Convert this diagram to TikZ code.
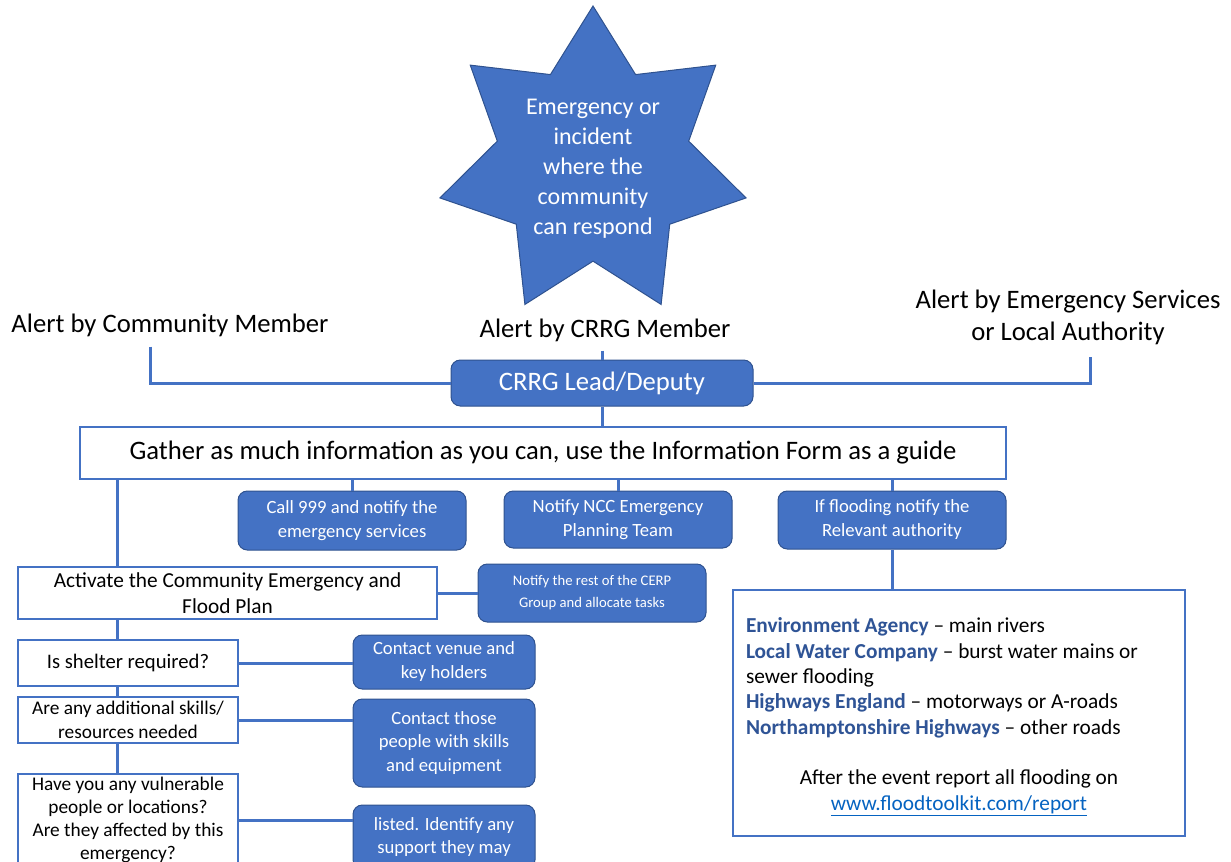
\documentclass[tikz,border=0pt]{standalone}
\usepackage{fontspec}
\setmainfont{Carlito}
\usetikzlibrary{shapes.geometric}
\definecolor{crrgblue}{HTML}{4472C4}
\definecolor{crrgedge}{HTML}{2F528F}
\definecolor{agencyblue}{HTML}{2F5496}
\definecolor{linkblue}{HTML}{0563C1}
\newcommand{\agency}[1]{\textbf{\textcolor{agencyblue}{#1}}}
\tikzset{
  wire/.style={draw=crrgblue, line width=2.25pt},
  bluebox/.style={draw=crrgedge, line width=0.75pt, fill=crrgblue, text=white,
    rounded corners=7pt, inner sep=0pt, align=center},
  whitebox/.style={draw=crrgblue, line width=1.5pt, fill=white, text=black,
    inner sep=0pt, align=center},
  alert/.style={inner sep=0pt, align=center, font=\fontsize{20}{24}\selectfont}
}

\begin{document}
\begin{tikzpicture}[x=0.75pt, y=-0.75pt]
\useasboundingbox (0,0) rectangle (1231,861);
\clip (0,0) rectangle (1231,861);

% the emergency
\node[star, star points=7, star point ratio=1.6, minimum size=235.5pt, inner sep=0pt,
  draw=crrgedge, line width=0.75pt, fill=crrgblue] (star) at (593,163) {};
\node[text=white, align=center, font=\fontsize{18}{22.5}\selectfont] (event) at (593,169)
  {Emergency or\\incident\\where the\\community\\can respond};

% who raises the alert
\node[alert] (alertcom) at (170,325) {Alert by Community Member};
\node[alert] (alertcrrg) at (605,330) {Alert by CRRG Member};
\node[alert] (alertes) at (1068,317) {Alert by Emergency Services\\or Local Authority};

\node[bluebox, minimum width=226.5pt, minimum height=34.5pt, font=\fontsize{20}{24}\selectfont]
  (lead) at (602,383) {CRRG Lead/Deputy};
\node[whitebox, minimum width=694.5pt, minimum height=39pt, font=\fontsize{20}{24}\selectfont]
  (gather) at (543,453) {Gather as much information as you can, use the Information Form as a guide};

% first actions
\node[bluebox, minimum width=171pt, minimum height=44.25pt, font=\fontsize{14}{18}\selectfont]
  (call) at (352,520.5) {Call 999 and notify the\\emergency services};
\node[bluebox, minimum width=171pt, minimum height=42.75pt, font=\fontsize{14}{18}\selectfont]
  (ncc) at (618,519.5) {Notify NCC Emergency\\Planning Team};
\node[bluebox, minimum width=171pt, minimum height=43.5pt, font=\fontsize{14}{18}\selectfont]
  (flood) at (892,520) {If flooding notify the\\Relevant authority};

\node[whitebox, minimum width=339pt, minimum height=184.5pt, text width=319.5pt, align=none,
  font=\fontsize{16}{19}\selectfont] (info) at (959,713) {%
  {\raggedright\agency{Environment Agency} – main rivers\\
  \agency{Local Water Company} – burst water mains or\\
  sewer flooding\\
  \agency{Highways England} – motorways or A-roads\\
  \agency{Northamptonshire Highways} – other roads\par}
  \vspace{19pt}
  {\centering After the event report all flooding on\\
  \textcolor{linkblue}{\underline{www.floodtoolkit.com/report}}\par}
  \vspace{-6pt}};

% plan
\node[whitebox, minimum width=314.25pt, minimum height=39pt, font=\fontsize{16}{19.5}\selectfont]
  (activate) at (227.5,593) {Activate the Community Emergency and\\Flood Plan};
\node[bluebox, minimum width=171pt, minimum height=43.5pt, font=\fontsize{11}{16.5}\selectfont]
  (cerp) at (592,593) {Notify the rest of the CERP\\Group and allocate tasks};

\node[whitebox, minimum width=165pt, minimum height=34.5pt, font=\fontsize{15.5}{18}\selectfont]
  (shelter) at (128,663) {Is shelter required?};
\node[bluebox, minimum width=136.5pt, minimum height=40.5pt, font=\fontsize{14}{18}\selectfont]
  (venue) at (444,662) {Contact venue and\\key holders};

\node[whitebox, minimum width=165pt, minimum height=34.5pt, font=\fontsize{14.5}{18}\selectfont]
  (skills) at (128,720) {Are any additional skills/\\resources needed};
\node[bluebox, minimum width=136.5pt, minimum height=66pt, font=\fontsize{14}{17.6}\selectfont]
  (contact) at (444,743) {Contact those\\people with skills\\and equipment};

\node[whitebox, minimum width=165pt, minimum height=69pt, font=\fontsize{14.5}{17.25}\selectfont]
  (vuln) at (128,820) {Have you any vulnerable\\people or locations?\\Are they affected by this\\emergency?};
\node[bluebox, minimum width=136.5pt, minimum height=48pt, font=\fontsize{14}{17.25}\selectfont]
  (listed) at (444,837) {listed. Identify any\\support they may};

\coordinate (spine) at (117,0);

% connectors
\draw[wire] (alertcom.south) ++(-20,10) |- (lead.west);
\draw[wire] (lead.north |- alertcrrg.south) ++(0,9) -- (lead.north);
\draw[wire] (lead.east) -| ([xshift=16.5pt, yshift=-9pt]alertes.south);
\draw[wire] (lead.south) -- (lead.south |- gather.north);
\draw[wire] (gather.south -| spine) -- (activate.north -| spine);
\draw[wire] (call.north |- gather.south) -- (call.north);
\draw[wire] (ncc.north |- gather.south) -- (ncc.north);
\draw[wire] (flood.north |- gather.south) -- (flood.north);
\draw[wire] (flood.south) -- (flood.south |- info.north);
\draw[wire] (activate.east) -- (activate.east -| cerp.west);
\draw[wire] (activate.south -| spine) -- (shelter.north -| spine);
\draw[wire] (shelter.south -| spine) -- (skills.north -| spine);
\draw[wire] (skills.south -| spine) -- (vuln.north -| spine);
\draw[wire] (shelter.east) -- (shelter.east -| venue.west);
\draw[wire] (skills.east) -- (skills.east -| contact.west);
\draw[wire] (vuln.east) -- (vuln.east -| listed.west);
\end{tikzpicture}
\end{document}
